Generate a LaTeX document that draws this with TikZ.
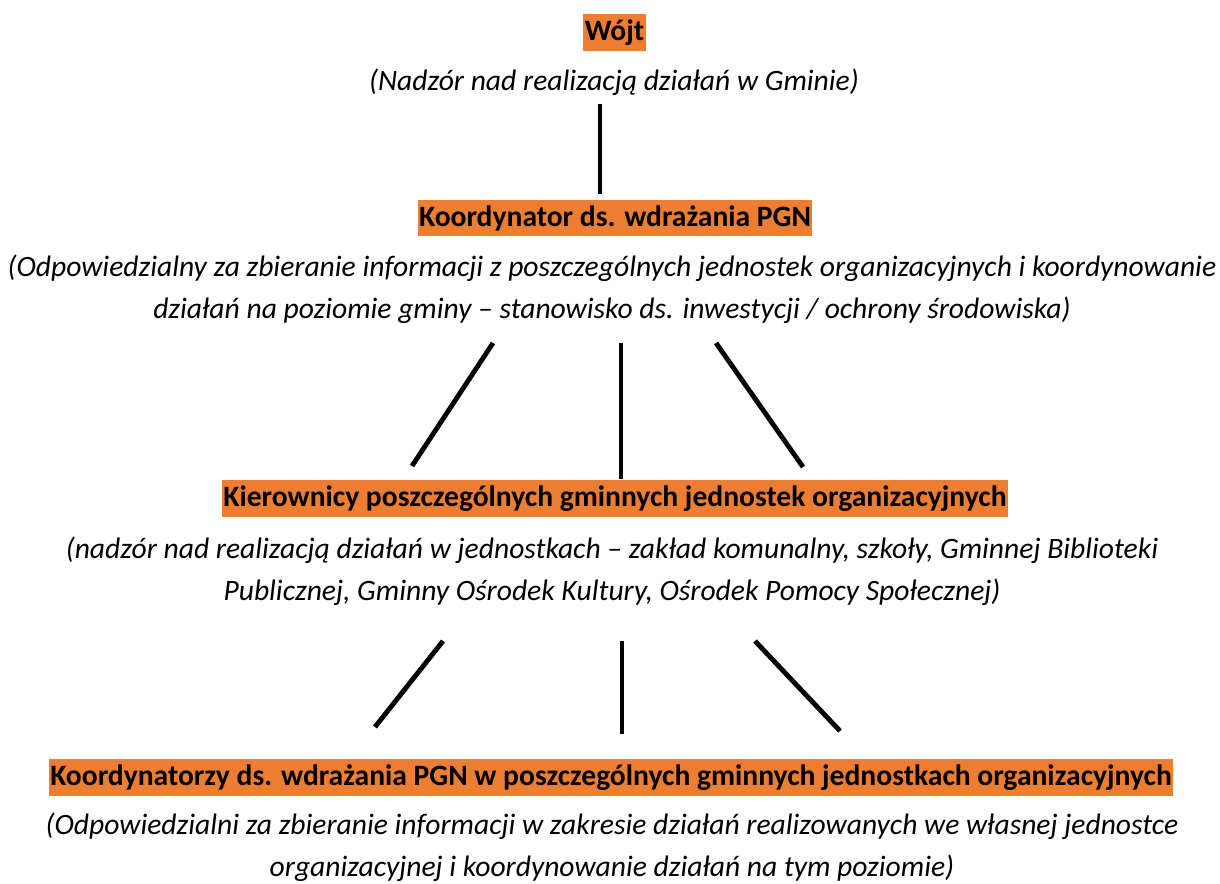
\documentclass[tikz,border=0pt]{standalone}
\usepackage{fontspec}
\setmainfont{Carlito}
\usepackage{xcolor}
\usepackage{tikz}
\definecolor{hilite}{HTML}{ED7D31}
\tikzset{
  head/.style={fill=hilite,font=\bfseries,inner xsep=0.6pt,inner ysep=0pt,text height=11.1pt,text depth=4.1pt},
  desc/.style={font=\itshape,align=center,inner sep=0pt},
  conn/.style={line width=2pt}
}
\begin{document}
\begin{tikzpicture}[x=0.4125pt,y=-0.4125pt]
                    \useasboundingbox (0,0) rectangle (1220,884);
                    \fontsize{12.2}{17.3}\selectfont

                    % levels
                    \node[head] (wojt) at (614.5,32.5) {Wójt};
                    \node[desc] (wojtdesc) at (614,82) {(Nadzór nad realizacją działań w Gminie)};

                    \node[head] (koord) at (615,218) {Koordynator ds. wdrażania PGN};
                    \node[desc] (koorddesc) at (612,289) {(Odpowiedzialny za zbieranie informacji z poszczególnych jednostek organizacyjnych i koordynowanie\\działań na poziomie gminy – stanowisko ds. inwestycji / ochrony środowiska)};

                    \node[head] (kier) at (615,498.5) {Kierownicy poszczególnych gminnych jednostek organizacyjnych};
                    \node[desc] (kierdesc) at (612,571) {(nadzór nad realizacją działań w jednostkach – zakład komunalny, szkoły, Gminnej Biblioteki\\Publicznej, Gminny Ośrodek Kultury, Ośrodek Pomocy Społecznej)};

                    \node[head] (koordj) at (611,777.5) {Koordynatorzy ds. wdrażania PGN w poszczególnych gminnych jednostkach organizacyjnych};
                    \node[desc] (koordjdesc) at (612,847) {(Odpowiedzialni za zbieranie informacji w zakresie działań realizowanych we własnej jednostce\\organizacyjnej i koordynowanie działań na tym poziomie)};

                    % line ends
                    \coordinate (w1) at (600,104);
                    \coordinate (k1) at (600,194);
                    \coordinate (a1) at (493,343);
                    \coordinate (a2) at (621,343);
                    \coordinate (a3) at (716,343);
                    \coordinate (b1) at (412,466);
                    \coordinate (b2) at (621,479);
                    \coordinate (b3) at (803,467);
                    \coordinate (c1) at (443,641);
                    \coordinate (c2) at (622,641);
                    \coordinate (c3) at (755,641);
                    \coordinate (d1) at (375,727);
                    \coordinate (d2) at (622,734);
                    \coordinate (d3) at (840,731);

                    \draw[conn] (w1) -- (k1);
                    \foreach \i in {1,2,3} {
                      \draw[conn] (a\i) -- (b\i);
                      \draw[conn] (c\i) -- (d\i);
                    }
\end{tikzpicture}
\end{document}
